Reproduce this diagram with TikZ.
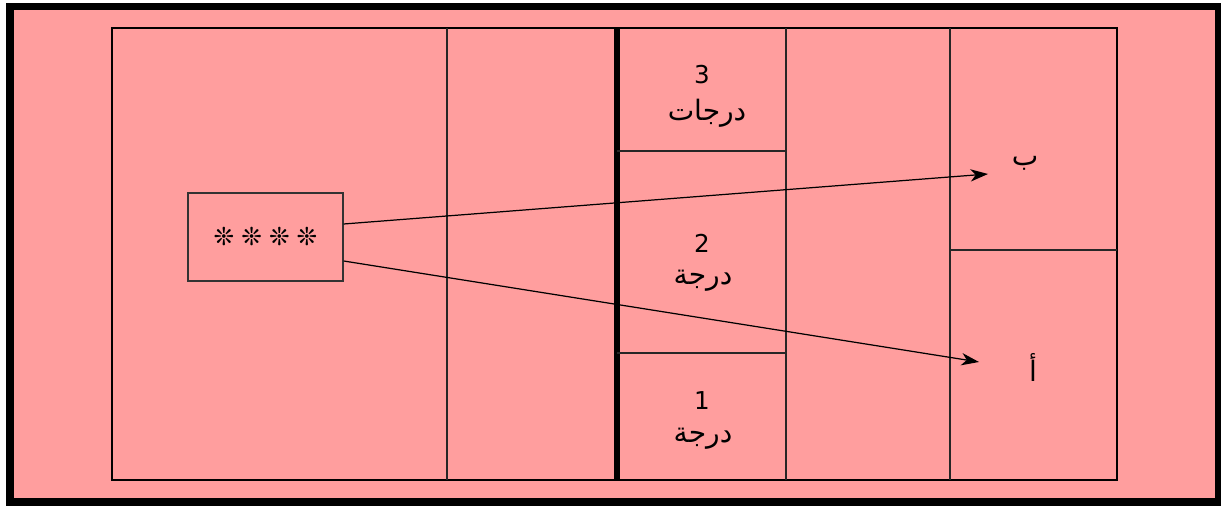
\documentclass[tikz,border=0pt]{standalone}
\usepackage{fontspec}
\setmainfont{DejaVu Sans}
\newfontfamily\arabicfont[Script=Arabic]{DejaVu Sans}
\TeXXeTstate=1
\usepackage{xcolor}
\usetikzlibrary{arrows.meta, positioning, calc}
\definecolor{courtpink}{RGB}{255,158,158}

\begin{document}
\begin{tikzpicture}[
  x=0.02cm, y=-0.02cm,
  arrow/.style={-{Stealth[length=10pt, width=7pt, inset=3pt]}, line width=0.7pt},
  thinline/.style={line width=0.8pt, draw=black!85},
  lbl/.style={font=\fontsize{14}{16}\selectfont, inner sep=0pt, align=center},
  ar/.style={font=\fontsize{16}{18}\selectfont\arabicfont, inner sep=0pt}
]
  \useasboundingbox (0,0) rectangle (1221,506);

  % Frame and background
  \fill[white] (0,0) rectangle (1221,506);
  \fill[black] (6,3) rectangle (1221,506);
  \fill[courtpink] (14,10) rectangle (1215,498);

  % Court lines
  \draw[line width=1.4pt] (112,28) rectangle (1117,480);
  \draw[thinline] (447,28) -- (447,480);
  \draw[line width=3.2pt] (617,28) -- (617,480);
  \draw[thinline] (786,28) -- (786,480);
  \draw[thinline] (950,28) -- (950,480);
  \draw[thinline] (617,151) -- (786,151);
  \draw[thinline] (617,353) -- (786,353);
  \draw[thinline] (950,250) -- (1117,250);

  % Stars box
  \node[draw=black!80, line width=0.8pt, minimum width=3.1cm, minimum height=1.76cm,
        font=\fontsize{14}{16}\selectfont] (stars) at (265.5,237) {❊\hspace{4pt}❊\hspace{4pt}❊\hspace{4pt}❊};

  % Step labels
  \node[lbl] (n3) at (702,75) {3};
  \node[ar] (s3) at (707,113) {\beginR درجات\endR};
  \node[lbl] (n2) at (702,243) {2};
  \node[ar] (s2) at (703,281) {\beginR درجة\endR};
  \node[lbl] (n1) at (702,401) {1};
  \node[ar] (s1) at (703,439) {\beginR درجة\endR};

  % Target letters
  \node[ar] (ba) at (1025,163) {\beginR ب\endR};
  \node[ar] (alef) at (1033,367) {\beginR أ\endR};

  % Arrows
  \coordinate (tb) at (988,174);
  \coordinate (ta) at (979,362);
  \draw[arrow] (stars.east |- 0,224) -- (tb);
  \draw[arrow] (stars.east |- 0,261) -- (ta);

\end{tikzpicture}
\end{document}
